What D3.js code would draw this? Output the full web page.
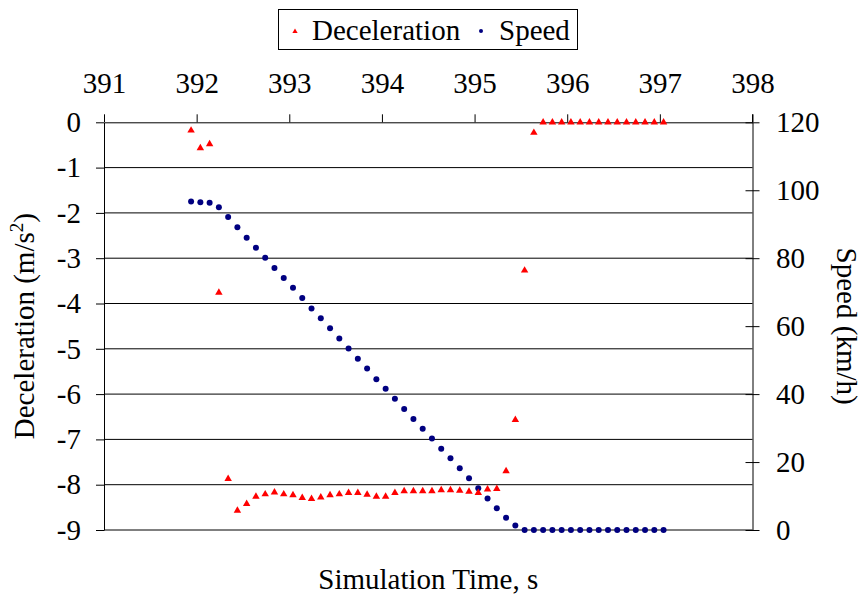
<!DOCTYPE html>
<html>
<head>
<meta charset="utf-8">
<script src="https://cdn.jsdelivr.net/npm/d3@7"></script>
<style>
  html, body { margin: 0; padding: 0; background: #fff; }
  svg { display: block; }
  text { font-family: "Liberation Serif", "Times New Roman", serif; fill: #000; }
</style>
</head>
<body>
<svg id="chart" width="863" height="594"></svg>
<script>
// ---- data ----
const timeValues = [391.94, 392.04, 392.14, 392.24, 392.34, 392.44, 392.54, 392.64, 392.74, 392.84,
  392.94, 393.04, 393.14, 393.24, 393.34, 393.44, 393.54, 393.64, 393.74, 393.84,
  393.94, 394.04, 394.14, 394.24, 394.34, 394.44, 394.54, 394.64, 394.74, 394.84,
  394.94, 395.04, 395.14, 395.24, 395.34, 395.44, 395.54, 395.64, 395.74, 395.84,
  395.94, 396.04, 396.14, 396.24, 396.34, 396.44, 396.54, 396.64, 396.74, 396.84,
  396.94, 397.04];
const decelValues = [-0.18, -0.57, -0.48, -3.76, -7.87, -8.57, -8.42, -8.26, -8.21, -8.17,
  -8.21, -8.23, -8.29, -8.31, -8.28, -8.23, -8.21, -8.18, -8.18, -8.22,
  -8.26, -8.26, -8.18, -8.14, -8.14, -8.14, -8.14, -8.12, -8.12, -8.13,
  -8.15, -8.18, -8.10, -8.09, -7.70, -6.57, -3.27, -0.23, 0, 0,
  0, 0, 0, 0, 0, 0, 0, 0, 0, 0,
  0, 0];
const speedValues = [96.7, 96.5, 96.3, 95.0, 92.1, 89.1, 86.0, 83.1, 80.1, 77.1,
  74.2, 71.3, 68.3, 65.2, 62.3, 59.4, 56.4, 53.4, 50.4, 47.5,
  44.4, 41.6, 38.6, 35.6, 32.7, 29.8, 26.9, 23.9, 21.1, 18.2,
  15.2, 12.3, 9.3, 6.4, 3.6, 1.3, 0, 0, 0, 0,
  0, 0, 0, 0, 0, 0, 0, 0, 0, 0,
  0, 0];
const xTicks = [391, 392, 393, 394, 395, 396, 397, 398];
const decelTicks = [-9, -8, -7, -6, -5, -4, -3, -2, -1, 0];
const speedTicks = [0, 20, 40, 60, 80, 100, 120];
const seriesNames = ["Deceleration", "Speed"];
const xTitle = "Simulation Time, s";

// ---- layout ----
const L = 104, R = 752.5, T = 122.3, B = 530;
const FONT = 29;
const RED = "#ff0000", NAVY = "#000080";
const fmt = d => String(d);

const svg = d3.select("#chart");
const x = d3.scaleLinear().domain([391, 398]).range([L, R]);
const yL = d3.scaleLinear().domain([-9, 0]).range([B, T]);
const yR = d3.scaleLinear().domain([0, 120]).range([B, T]);

// gridlines
svg.append("g").selectAll("line").data(decelTicks.filter(d => d !== 0)).join("line")
  .attr("x1", L).attr("x2", R)
  .attr("y1", d => yL(d)).attr("y2", d => yL(d))
  .attr("stroke", "#000").attr("stroke-width", 1);

// top axis
const gTop = svg.append("g").attr("transform", `translate(0,${T})`)
  .call(d3.axisTop(x).tickValues(xTicks).tickFormat(fmt).tickSize(8).tickSizeOuter(0).tickPadding(21.5));
gTop.attr("font-family", null).attr("font-size", null);
gTop.selectAll("text").style("font-size", FONT + "px");
gTop.selectAll("line, path").attr("stroke", "#000");

// left axis
const gLeft = svg.append("g").attr("transform", `translate(${L},0)`)
  .call(d3.axisLeft(yL).tickValues(decelTicks).tickFormat(fmt).tickSize(8).tickSizeOuter(0).tickPadding(15));
gLeft.attr("font-family", null).attr("font-size", null);
gLeft.selectAll("text").style("font-size", FONT + "px");
gLeft.selectAll("line, path").attr("stroke", "#000");

// right axis
const gRight = svg.append("g").attr("transform", `translate(${R},0)`)
  .call(d3.axisRight(yR).tickValues(speedTicks).tickFormat(fmt).tickSize(7).tickSizeOuter(0).tickPadding(16.5));
gRight.attr("font-family", null).attr("font-size", null);
gRight.selectAll(".tick line").attr("x1", -7).attr("x2", 7);
gRight.selectAll("text").style("font-size", FONT + "px").attr("text-anchor", "start");
gRight.selectAll("line, path").attr("stroke", "#000");

// right axis extension above the top axis
svg.append("line").attr("x1", R).attr("x2", R).attr("y1", T - 8).attr("y2", T).attr("stroke", "#000");

// speed points
svg.append("g").selectAll("circle").data(speedValues).join("circle")
  .attr("cx", (d, i) => x(timeValues[i]))
  .attr("cy", d => yR(d))
  .attr("r", 3)
  .attr("fill", NAVY);

// deceleration points
const tri = d3.symbol().type(d3.symbolTriangle).size(24);
svg.append("g").selectAll("path").data(decelValues).join("path")
  .attr("d", tri)
  .attr("transform", (d, i) => `translate(${x(timeValues[i])},${yL(d)})`)
  .attr("fill", RED);

// axis titles
svg.append("text")
  .attr("transform", `translate(33.5,${(T + B) / 2}) rotate(-90)`)
  .attr("text-anchor", "middle")
  .style("font-size", FONT + "px")
  .call(t => {
    t.append("tspan").text("Deceleration (m/s");
    t.append("tspan").text("2").attr("dy", -11).style("font-size", "19px");
    t.append("tspan").text(")").attr("dy", 11);
  });

svg.append("text")
  .attr("transform", `translate(837,${(T + B) / 2}) rotate(90)`)
  .attr("text-anchor", "middle")
  .style("font-size", FONT + "px")
  .text("Speed (km/h)");

svg.append("text")
  .attr("x", (L + R) / 2).attr("y", 589)
  .attr("text-anchor", "middle")
  .style("font-size", FONT + "px")
  .text(xTitle);

// legend
const lg = svg.append("g");
lg.append("rect").attr("x", 278.5).attr("y", 9.5).attr("width", 299).attr("height", 40)
  .attr("fill", "#fff").attr("stroke", "#000").attr("stroke-width", 1);
lg.append("path").attr("d", d3.symbol().type(d3.symbolTriangle).size(12))
  .attr("transform", "translate(295,31.5)").attr("fill", RED);
lg.append("text").attr("x", 312).attr("y", 40).style("font-size", FONT + "px").text(seriesNames[0]);
lg.append("circle").attr("cx", 481).attr("cy", 31).attr("r", 2).attr("fill", NAVY);
lg.append("text").attr("x", 499).attr("y", 40).style("font-size", FONT + "px").text(seriesNames[1]);
</script>
</body>
</html>
